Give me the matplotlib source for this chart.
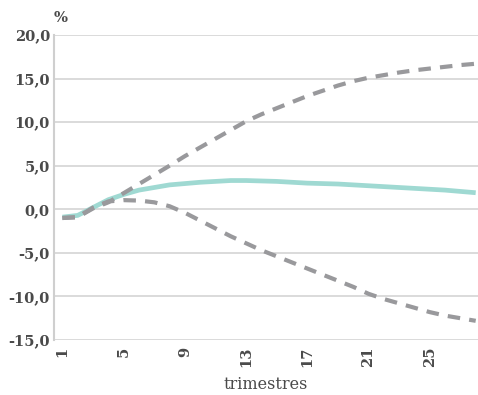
import matplotlib
matplotlib.use("Agg")
import matplotlib.pyplot as plt

quarters = list(range(1, 29))
central = [-0.9, -0.7, 0.2, 1.1, 1.7, 2.2, 2.5, 2.8, 2.95, 3.1, 3.2, 3.3, 3.3, 3.25,
           3.2, 3.1, 3.0, 2.95, 2.9, 2.8, 2.7, 2.6, 2.5, 2.4, 2.3, 2.2, 2.05, 1.9]
upper = [-1.0, -0.9, 0.1, 0.8, 1.85, 2.9, 3.95, 5.0, 6.1, 7.1, 8.1, 9.1, 10.1, 10.9,
         11.6, 12.3, 13.0, 13.6, 14.2, 14.7, 15.1, 15.4, 15.7, 15.95, 16.15, 16.35, 16.55, 16.7]
lower = [-1.0, -0.9, 0.2, 0.9, 1.05, 1.0, 0.8, 0.35, -0.4, -1.3, -2.2, -3.1, -3.9, -4.7,
         -5.4, -6.1, -6.8, -7.5, -8.2, -8.9, -9.7, -10.3, -10.8, -11.3, -11.8, -12.2, -12.5, -12.8]
yticks = [-15, -10, -5, 0, 5, 10, 15, 20]
ytick_labels = ["-15,0", "-10,0", "-5,0", "0,0", "5,0", "10,0", "15,0", "20,0"]
xticks = [1, 5, 9, 13, 17, 21, 25]

plt.rcParams['font.family'] = ['DejaVu Serif']
text_color = '#4a4a4a'

fig = plt.figure(figsize=(4.78, 3.95), dpi=100)
ax = fig.add_axes([54 / 478, 1 - 340 / 395, 1 - 54 / 478, (340 - 35) / 395])

ax.plot(quarters, central, color='#9fd9d2', lw=3.4, solid_capstyle='butt', zorder=3)
for s in (upper, lower):
    ax.plot(quarters, s, color='#99999c', lw=3.0, dashes=(3, 2.2), zorder=4)

ax.set_xlim(0.45, 28.15)
ax.set_ylim(-15, 20)
ax.set_yticks(yticks)
ax.set_yticklabels(ytick_labels)
ax.set_xticks(xticks)
ax.set_xticklabels([str(x) for x in xticks], rotation=90)
ax.tick_params(axis='both', length=0, labelsize=10.5, colors=text_color)
ax.tick_params(axis='y', pad=3)
ax.tick_params(axis='x', pad=5)
for lab in ax.get_yticklabels() + ax.get_xticklabels():
    lab.set_fontweight('bold')

ax.grid(axis='y', color='#d4d4d4', lw=1.2)
ax.set_axisbelow(True)
for sp in ('top', 'right', 'bottom'):
    ax.spines[sp].set_visible(False)
ax.spines['left'].set_color('#cfcfcf')
ax.spines['left'].set_linewidth(1.5)

ax.set_xlabel('trimestres', fontsize=11.5, color=text_color, labelpad=6)
fig.text(54 / 478, 1 - 18 / 395, '%', fontsize=10.5, color=text_color,
         ha='left', va='center', fontweight='bold')

fig.savefig('out.png', dpi=100)
